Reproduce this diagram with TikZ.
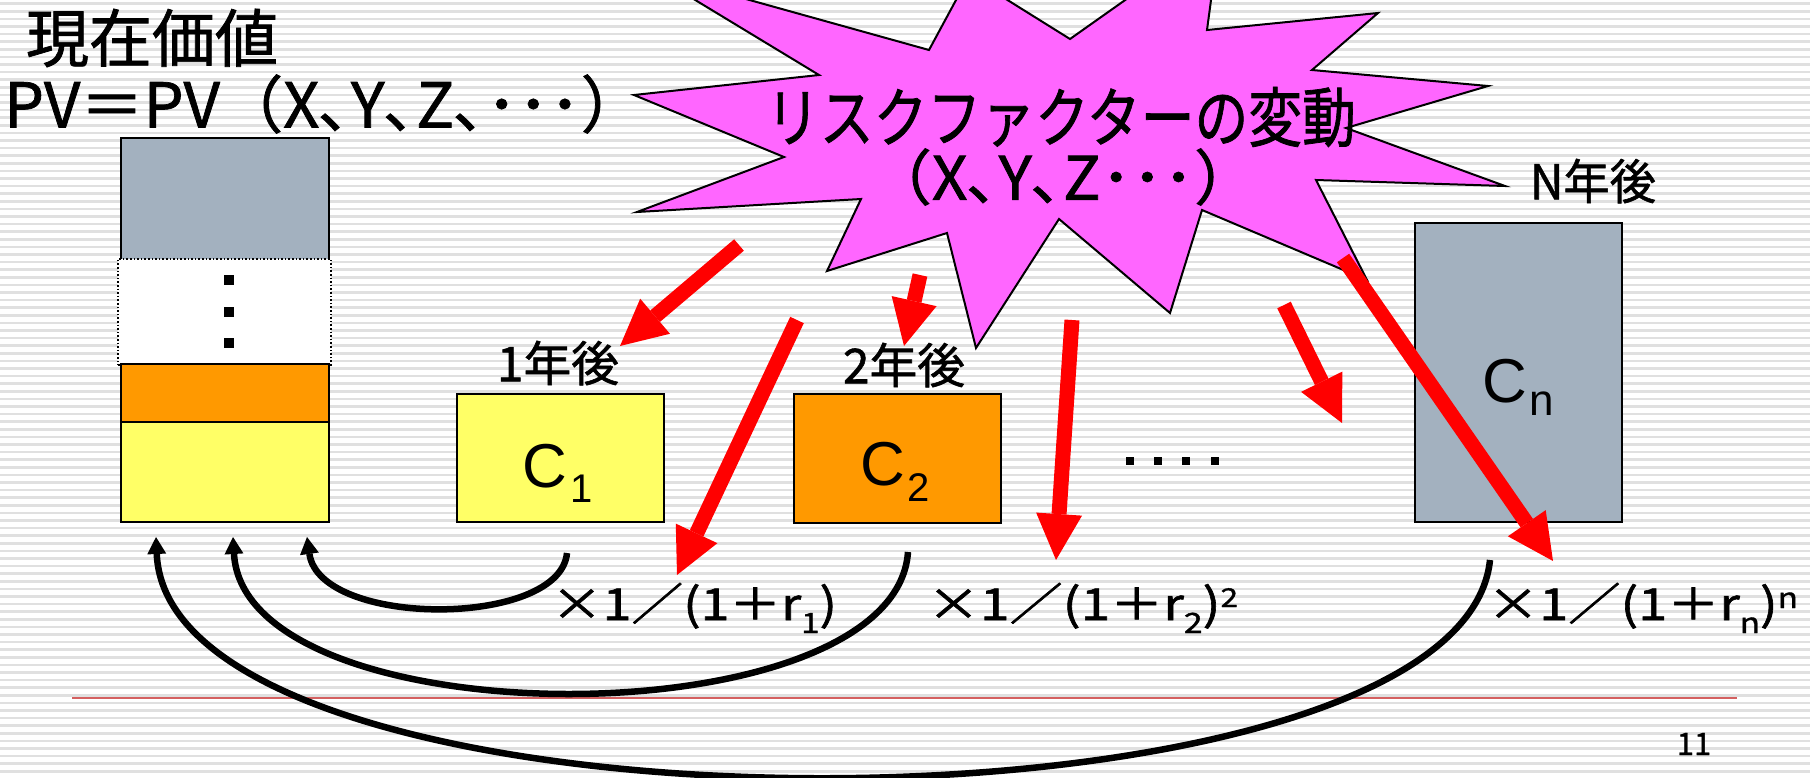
\documentclass[tikz,border=0pt]{standalone}
\usepackage{fontspec}
\setmainfont{Liberation Sans}
\newfontfamily\jp[FakeBold=1.2]{Noto Sans CJK JP}
\usetikzlibrary{arrows.meta}
\definecolor{stripegray}{RGB}{224,224,224}
\definecolor{cgray}{RGB}{163,177,191}
\definecolor{corange}{RGB}{255,153,0}
\definecolor{cyellow}{RGB}{255,255,102}
\definecolor{cmagenta}{RGB}{255,102,255}
\definecolor{sepred}{RGB}{212,96,96}
\newcommand{\fitw}[3]{\resizebox{#1pt}{\height}{\fontsize{#2}{#2}\selectfont #3}}
\newcommand{\fs}[1]{\fontsize{#1}{#1}\selectfont}
\tikzset{
  txt/.style={inner sep=0pt, outer sep=0pt},
  stripe/.style={draw=stripegray, line width=2.5pt},
  boxbase/.style={draw=black, line width=2pt, inner sep=0pt, outer sep=0pt, anchor=north west},
  dotbox/.style={draw=black, line width=1.6pt, dotted, fill=white, inner sep=0pt, outer sep=0pt, anchor=north west},
  sqdot/.style={fill=black, inner sep=0pt, outer sep=0pt},
  starstyle/.style={draw=black, line width=2pt, fill=cmagenta, line join=miter},
  redarrow/.style={draw=red, line width=15pt, -{Triangle[length=46pt,width=46pt,line width=0pt]}},
  curvearrow/.style={draw=black, line width=6.5pt, -{Triangle[length=17pt,width=19pt,line width=0pt]}},
  sepline/.style={draw=sepred, line width=1.6pt}
}
\begin{document}
\begin{tikzpicture}[x=1pt,y=-1pt]
\useasboundingbox (0,0) rectangle (1810,777);
\fill[white] (0,0) rectangle (1810,777);
% background stripes
\foreach \k in {0,...,102} {\draw[stripe] (0,{3.7+7.6*\k}) -- (1810,{3.7+7.6*\k});}
% separator line
\coordinate (sepL) at (72,698);
\coordinate (sepR) at (1737,698);
\draw[sepline] (sepL) -- (sepR);
% starburst
\draw[starstyle] (649,-28) -- (929,50) -- (969,-24) -- (1070,39) -- (1220,-67) -- (1207,30)
  -- (1378,13) -- (1312,70) -- (1488,86) -- (1346,128) -- (1505,186) -- (1316,180)
  -- (1367,280) -- (1202,210) -- (1170,313) -- (1059,219) -- (976,348) -- (947,233)
  -- (827,271) -- (861,199) -- (637,212) -- (784,157) -- (634,95) -- (819,75) -- cycle;
\node[txt] (rf1) at (1061,117) {\fitw{590}{65}{\jp リスクファクターの変動}};
\node[txt] (rf2) at (1063,177) {\fitw{387}{60}{\jp （X､Y､Z･･･）}};
% titles
\node[txt] (title) at (152,38) {\jp\fs{63}現在価値};
\node[txt, anchor=west] (pv) at (4,104) {\fitw{640}{62}{\jp PV＝PV（X､Y､Z､･･･）}};
% present value stack
\node[boxbase, fill=cgray, minimum width=208pt, minimum height=122pt] (pvgray) at (121,138) {};
\node[dotbox, minimum width=213pt, minimum height=106pt] (pvdots) at (118,259) {};
\node[boxbase, fill=corange, minimum width=208pt, minimum height=58pt] (pvorange) at (121,364) {};
\node[boxbase, fill=cyellow, minimum width=208pt, minimum height=100pt] (pvyellow) at (121,422) {};
\node[sqdot, minimum size=10pt] (d1) at (229,280) {};
\node[sqdot, minimum size=10pt] (d2) at (229,312) {};
\node[sqdot, minimum size=10pt] (d3) at (229,343) {};
% cash flow boxes
\node[boxbase, fill=cyellow, minimum width=207pt, minimum height=128pt] (c1box) at (457,394) {};
\node[boxbase, fill=corange, minimum width=207pt, minimum height=129pt] (c2box) at (794,394) {};
\node[boxbase, fill=cgray, minimum width=207pt, minimum height=299pt] (cnbox) at (1415,223) {};
\node[txt, anchor=base west] (c1txt) at (522,487) {\fs{62}C\kern4pt\raisebox{-15pt}{\fs{40}1}};
\node[txt, anchor=base west] (c2txt) at (860,485) {\fs{62}C\kern3pt\raisebox{-16pt}{\fs{40}2}};
\node[txt, anchor=base west] (cntxt) at (1482,402) {\fs{62}C\kern3pt\raisebox{-13pt}{\fs{44}n}};
% year labels
\node[txt] (y1) at (558,363) {\fitw{122}{48}{\jp 1年後}};
\node[txt] (y2) at (904,365) {\fitw{122}{48}{\jp 2年後}};
\node[txt] (yn) at (1593,181) {\fitw{126}{48}{\jp N年後}};
% dots between
\node[sqdot, minimum size=8pt] (e1) at (1130,461) {};
\node[sqdot, minimum size=8pt] (e2) at (1158,461) {};
\node[sqdot, minimum size=8pt] (e3) at (1186,461) {};
\node[sqdot, minimum size=8pt] (e4) at (1215,461) {};
% discount labels
\node[txt, anchor=base west] (l1) at (551,620) {\fitw{286}{44}{\jp ×1／(1＋r\raisebox{-13pt}{\fs{28}1})}};
\node[txt, anchor=base west] (l2) at (927,620) {\fitw{311}{44}{\jp ×1／(1＋r\raisebox{-13pt}{\fs{28}2})\raisebox{13pt}{\fs{26}2}}};
\node[txt, anchor=base west] (l3) at (1487,620) {\fitw{311}{44}{\jp ×1／(1＋r\raisebox{-13pt}{\fs{28}n})\raisebox{12pt}{\fs{28}n}}};
% page number
\node[txt] (pg) at (1694,744) {\jp\fs{31}11};
% red arrows
\coordinate (a1s) at (739,245); \coordinate (a1e) at (620,346);
\coordinate (a2s) at (920,275); \coordinate (a2e) at (904,346);
\coordinate (a3s) at (797,320); \coordinate (a3e) at (677,575);
\coordinate (a4s) at (1072,320); \coordinate (a4e) at (1056,560);
\coordinate (a5s) at (1284,305); \coordinate (a5e) at (1342,423);
\coordinate (a6s) at (1343,258); \coordinate (a6e) at (1553,561);
\draw[redarrow] (a1s) -- (a1e);
\draw[redarrow] (a2s) -- (a2e);
\draw[redarrow] (a3s) -- (a3e);
\draw[redarrow] (a4s) -- (a4e);
\draw[redarrow] (a5s) -- (a5e);
\draw[redarrow] (a6s) -- (a6e);
% discount curves back to the present value
\coordinate (s1) at (567,553); \coordinate (t1) at (307,537);
\coordinate (s2) at (908,552); \coordinate (t2) at (233,537);
\coordinate (s3) at (1490,560); \coordinate (t3) at (156,537);
\draw[curvearrow] (s1) .. controls (560,628) and (320,628) .. (t1);
\draw[curvearrow] (s2) .. controls (895,741) and (245,741) .. (t2);
\draw[curvearrow] (s3) .. controls (1460,852) and (170,852) .. (t3);
\end{tikzpicture}
\end{document}
